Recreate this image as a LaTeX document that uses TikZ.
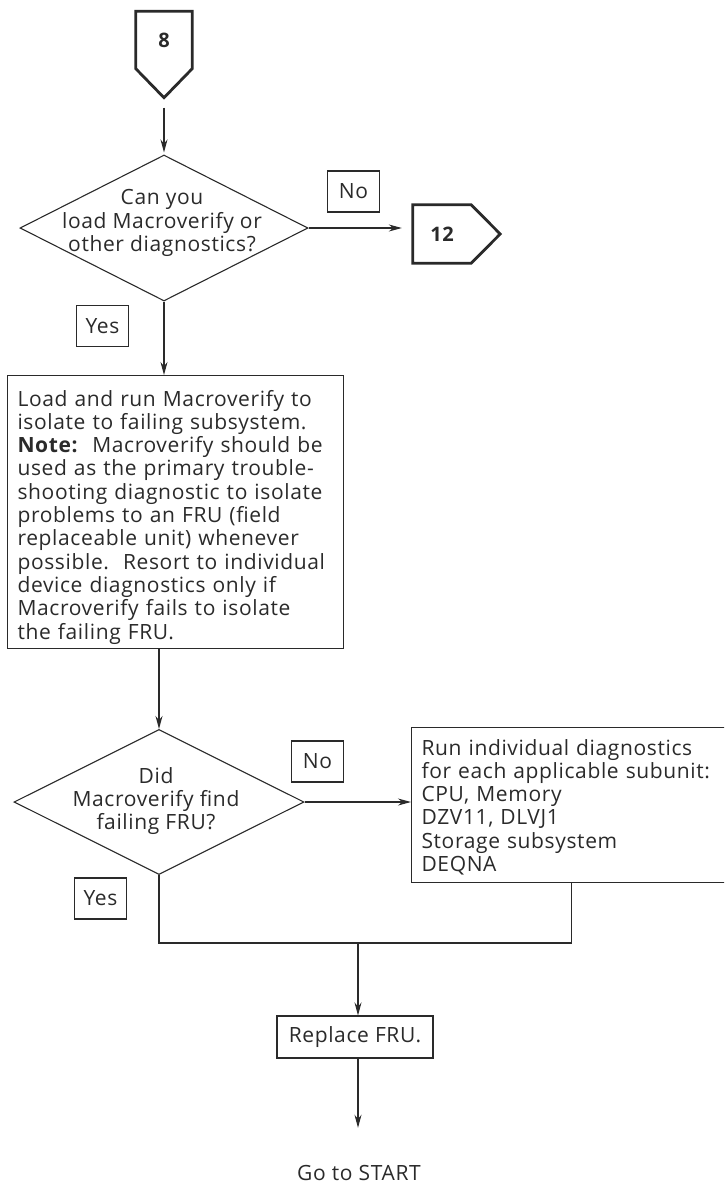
\documentclass[tikz,border=0pt]{standalone}
\usepackage{fontspec}
\setmainfont{Open Sans}[LetterSpace=3]
\usetikzlibrary{arrows.meta,shapes.geometric}
\definecolor{ink}{HTML}{2A2A2A}
\begin{document}
\begin{tikzpicture}[x=1pt,y=-1pt,
  every node/.style={text=ink, font=\fontsize{21}{23.3}\selectfont},
  line/.style={draw=ink, line width=1.1pt},
  arr/.style={line, -{Stealth[length=13pt,width=7pt]}},
  tag/.style={line, minimum width=52pt, minimum height=41pt, inner sep=0pt},
  stepbox/.style={line, inner sep=0pt, align=left},
  decision/.style={line, diamond, inner sep=0pt},
  offpage/.style={draw=ink, line width=2.8pt, line join=miter},
  numfont/.style={font=\bfseries\fontsize{20}{23}\selectfont},
]
\path[use as bounding box] (0,0) rectangle (724,1192);
\clip (0,0) rectangle (724,1192);

% off-page connector 8
\node[numfont, minimum width=56pt, minimum height=57pt, inner sep=0pt] (p8) at (164,40) {8};
\coordinate (p8tip) at ([yshift=-29pt]p8.south);
\draw[offpage] (p8.south west) -- (p8.north west) -- (p8.north east) -- (p8.south east) -- (p8tip) -- cycle;

% first decision
\node[decision, minimum width=288pt, minimum height=146pt] (d1) at (164,228) {};
\node[align=center] (q1) at (162,223) {Can you\\load Macroverify or\\other diagnostics?};
\draw[arr, shorten <=10pt, shorten >=2pt] (p8tip) -- (d1.north);

% off-page connector 12
\node[numfont, minimum width=58pt, minimum height=58pt, inner sep=0pt] (p12) at (442,234) {12};
\coordinate (p12tip) at ([xshift=29pt]p12.east);
\draw[offpage] (p12.north east) -- (p12.north west) -- (p12.south west) -- (p12.south east) -- (p12tip) -- cycle;
\draw[arr] (d1.east) -- ([xshift=-11pt]p12.west |- d1.east);
\node[tag] (no1) at (353.5,191.5) {No};

% main diagnostic step
\node[tag] (yes1) at (102.5,326) {Yes};
\node[stepbox, anchor=north west, minimum width=336pt, minimum height=273pt, text width=316pt] (b1) at (7,375)
  {\rule{0pt}{26pt}Load and run Macroverify to\\
   isolate to failing subsystem.\\
   \textbf{Note:}\ \ Macroverify should be\\
   used as the primary trouble-\\
   shooting diagnostic to isolate\\
   problems to an FRU (field\\
   replaceable unit) whenever\\
   possible.\ \ Resort to individual\\
   device diagnostics only if\\
   Macroverify fails to isolate\\
   the failing FRU.};
\draw[arr] (d1.south) -- (d1.south |- b1.north);

% second decision
\node[decision, minimum width=290pt, minimum height=145pt] (d2) at (159,802) {};
\node[align=center] (q2) at (156,801) {Did\\Macroverify find\\failing FRU?};
\draw[arr] (d2.north |- b1.south) -- (d2.north);

\node[tag] (no2) at (317.5,761.5) {No};
\node[tag] (yes2) at (100.5,898.5) {Yes};

% individual diagnostics
\node[stepbox, anchor=north west, minimum width=319pt, minimum height=155pt, text width=299pt] (b2) at (411,727)
  {\rule{0pt}{20pt}Run individual diagnostics\\
   for each applicable subunit:\\
   CPU, Memory\\
   DZV11, DLVJ1\\
   Storage subsystem\\
   DEQNA};
\draw[arr] (d2.east) -- (b2.west |- d2.east);

% merge and finish
\coordinate (join) at (358,943);
\draw[line] (d2.south) |- (join);
\draw[line] (b2.south) |- (join);
\node[line, minimum width=156pt, minimum height=42pt, inner sep=0pt] (fru) at (355,1037) {Replace FRU.};
\draw[arr] (join) -- (join |- fru.north);
\node (go) at (359,1173) {Go to START};
\draw[arr, shorten >=34pt] (join |- fru.south) -- (join |- go.north);
\end{tikzpicture}
\end{document}
